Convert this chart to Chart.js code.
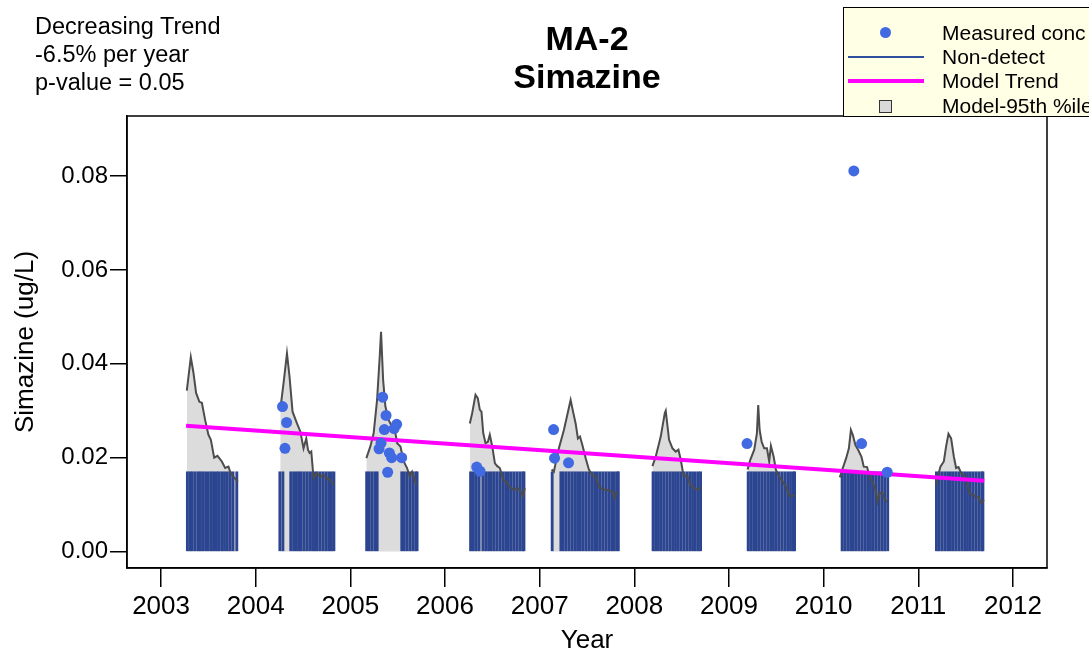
<!DOCTYPE html>
<html>
<head>
<meta charset="utf-8">
<title>MA-2 Simazine</title>
<script src="https://cdn.jsdelivr.net/npm/chart.js@4.4.1/dist/chart.umd.min.js"></script>
<style>
  html, body { margin: 0; padding: 0; background: #fff; }
  #wrap { position: relative; width: 1089px; height: 656px; overflow: hidden; font-family: "Liberation Sans", Arial, sans-serif; color: #000; }
  #trendChart { position: absolute; left: 0; top: 0; }
  #note { position: absolute; left: 35px; top: 12px; font-size: 23.5px; line-height: 28px; }
  #title { position: absolute; left: 387px; width: 400px; top: 19px; text-align: center; font-size: 34px; line-height: 38px; font-weight: bold; }
  #legend { position: absolute; left: 843px; top: 7px; width: 270px; height: 110px; background: #ffffe6; border: 1.5px solid #000; box-sizing: border-box; }
  #legend .txt { position: absolute; left: 98px; font-size: 21px; line-height: 24px; white-space: nowrap; }
  #legend .dot { position: absolute; left: 36px; top: 19px; width: 11px; height: 11px; border-radius: 50%; background: #4169e1; }
  #legend .nd { position: absolute; left: 4px; top: 48px; width: 76px; height: 2px; background: #2f4f9f; }
  #legend .mt { position: absolute; left: 4px; top: 71px; width: 76px; height: 4px; background: #ff00ff; }
  #legend .sq { position: absolute; left: 35px; top: 92px; width: 13px; height: 13px; background: #d9d9d9; border: 1.5px solid #333; box-sizing: border-box; }
</style>
</head>
<body>
<div id="wrap">
  <canvas id="trendChart" width="1089" height="656"></canvas>
  <div id="note">Decreasing Trend<br>-6.5% per year<br>p-value = 0.05</div>
  <div id="title">MA-2<br>Simazine</div>
  <div id="legend">
    <span class="dot"></span><span class="txt" style="top:13px">Measured conc</span>
    <span class="nd"></span><span class="txt" style="top:37px">Non-detect</span>
    <span class="mt"></span><span class="txt" style="top:61px">Model Trend</span>
    <span class="sq"></span><span class="txt" style="top:86px">Model-95th %ile</span>
  </div>
</div>
<script>
const yearTicks = [2003, 2004, 2005, 2006, 2007, 2008, 2009, 2010, 2011, 2012];
const concTicks = [0, 0.02, 0.04, 0.06, 0.08];

// measured concentrations (decimal year, ug/L)
const measuredYears = [2004.283, 2004.326, 2004.309, 2005.341, 2005.377, 2005.359, 2005.489, 2005.462,
  2005.324, 2005.303, 2005.412, 2005.436, 2005.542, 2005.394, 2006.335, 2006.371,
  2007.147, 2007.157, 2007.305, 2009.191, 2010.319, 2010.401, 2010.672];
const measuredConc = [0.0309, 0.0275, 0.0220, 0.0329, 0.0290, 0.0260, 0.0271, 0.0262,
  0.0231, 0.0219, 0.0210, 0.0200, 0.0200, 0.0169, 0.0180, 0.0171,
  0.0260, 0.0199, 0.0189, 0.0230, 0.0811, 0.0230, 0.0169];

// non-detect samples, reporting limit 0.017
const ndLimit = 0.017;
const ndYears = [
  2003.278, 2003.305, 2003.33, 2003.36, 2003.39, 2003.415, 2003.44, 2003.47, 2003.50, 2003.53, 2003.555, 2003.585, 2003.61, 2003.64, 2003.67, 2003.70, 2003.73, 2003.76, 2003.80,
  2004.255, 2004.287, 2004.37, 2004.40, 2004.43, 2004.455, 2004.48, 2004.51, 2004.54, 2004.57, 2004.60, 2004.625, 2004.65, 2004.68, 2004.71, 2004.74, 2004.77, 2004.80, 2004.826,
  2005.172, 2005.20, 2005.23, 2005.26, 2005.283, 2005.543, 2005.57, 2005.60, 2005.63, 2005.66, 2005.69, 2005.705,
  2006.27, 2006.30, 2006.33, 2006.36, 2006.40, 2006.43, 2006.46, 2006.49, 2006.52, 2006.55, 2006.58, 2006.61, 2006.64, 2006.67, 2006.70, 2006.73, 2006.76, 2006.79, 2006.82, 2006.834,
  2007.132, 2007.224, 2007.25, 2007.28, 2007.31, 2007.34, 2007.37, 2007.40, 2007.43, 2007.46, 2007.49, 2007.52, 2007.55, 2007.58, 2007.61, 2007.64, 2007.67, 2007.70, 2007.73, 2007.76, 2007.79, 2007.82, 2007.831,
  2008.198, 2008.225, 2008.255, 2008.285, 2008.315, 2008.345, 2008.375, 2008.405, 2008.435, 2008.465, 2008.495, 2008.525, 2008.555, 2008.585, 2008.615, 2008.645, 2008.675, 2008.70,
  2009.203, 2009.23, 2009.26, 2009.29, 2009.32, 2009.35, 2009.38, 2009.41, 2009.44, 2009.47, 2009.50, 2009.53, 2009.56, 2009.59, 2009.62, 2009.65, 2009.68, 2009.693,
  2010.197, 2010.225, 2010.255, 2010.285, 2010.315, 2010.345, 2010.375, 2010.405, 2010.435, 2010.465, 2010.495, 2010.525, 2010.555, 2010.585, 2010.615, 2010.645, 2010.677,
  2011.192, 2011.22, 2011.25, 2011.28, 2011.31, 2011.34, 2011.37, 2011.40, 2011.43, 2011.46, 2011.49, 2011.52, 2011.55, 2011.58, 2011.61, 2011.64, 2011.67, 2011.683
];

// model 95th percentile, one list of [year, conc] per sampling season
const p95Seasons = [
  [[2003.272, 0.0343], [2003.314, 0.0414], [2003.342, 0.0381], [2003.370, 0.0338], [2003.405, 0.0319], [2003.431, 0.0317], [2003.466, 0.0280], [2003.500, 0.0249], [2003.526, 0.0238], [2003.561, 0.0200], [2003.596, 0.0204], [2003.642, 0.0192], [2003.677, 0.0178], [2003.712, 0.0181], [2003.730, 0.0170], [2003.765, 0.0159], [2003.811, 0.0149]],
  [[2004.259, 0.0302], [2004.294, 0.0359], [2004.330, 0.0422], [2004.357, 0.0373], [2004.389, 0.0298], [2004.436, 0.0273], [2004.471, 0.0256], [2004.505, 0.0220], [2004.534, 0.0241], [2004.552, 0.0217], [2004.569, 0.0210], [2004.587, 0.0213], [2004.611, 0.0156], [2004.647, 0.0167], [2004.682, 0.0160], [2004.717, 0.0163], [2004.753, 0.0156], [2004.788, 0.0153], [2004.823, 0.0142]],
  [[2005.169, 0.0199], [2005.211, 0.0224], [2005.246, 0.0252], [2005.282, 0.0323], [2005.310, 0.0415], [2005.324, 0.0468], [2005.346, 0.0366], [2005.370, 0.0309], [2005.405, 0.0280], [2005.441, 0.0266], [2005.476, 0.0252], [2005.494, 0.0231], [2005.529, 0.0224], [2005.563, 0.0192], [2005.599, 0.0178], [2005.627, 0.0160], [2005.652, 0.0170], [2005.698, 0.0142]],
  [[2006.262, 0.0273], [2006.287, 0.0295], [2006.322, 0.0334], [2006.346, 0.0327], [2006.368, 0.0302], [2006.385, 0.0298], [2006.404, 0.0252], [2006.428, 0.0231], [2006.453, 0.0234], [2006.473, 0.0249], [2006.499, 0.0224], [2006.527, 0.0188], [2006.552, 0.0182], [2006.579, 0.0178], [2006.615, 0.0153], [2006.647, 0.0149], [2006.674, 0.0140], [2006.700, 0.0135], [2006.727, 0.0131], [2006.763, 0.0136], [2006.791, 0.0131], [2006.827, 0.0117], [2006.841, 0.0135]],
  [[2007.126, 0.0175], [2007.150, 0.0170], [2007.168, 0.0188], [2007.203, 0.0220], [2007.256, 0.0259], [2007.327, 0.0323], [2007.356, 0.0295], [2007.380, 0.0273], [2007.404, 0.0241], [2007.426, 0.0245], [2007.451, 0.0227], [2007.486, 0.0199], [2007.521, 0.0174], [2007.557, 0.0163], [2007.592, 0.0160], [2007.627, 0.0138], [2007.662, 0.0133], [2007.715, 0.0131], [2007.768, 0.0128], [2007.793, 0.0114], [2007.814, 0.0128]],
  [[2008.191, 0.0182], [2008.226, 0.0202], [2008.279, 0.0245], [2008.322, 0.0295], [2008.332, 0.0300], [2008.367, 0.0238], [2008.403, 0.0220], [2008.438, 0.0213], [2008.466, 0.0217], [2008.491, 0.0195], [2008.519, 0.0163], [2008.562, 0.0160], [2008.589, 0.0142], [2008.632, 0.0135], [2008.668, 0.0131], [2008.703, 0.0137]],
  [[2009.197, 0.0175], [2009.224, 0.0195], [2009.267, 0.0217], [2009.295, 0.0252], [2009.309, 0.0312], [2009.324, 0.0259], [2009.345, 0.0234], [2009.372, 0.0220], [2009.401, 0.0220], [2009.425, 0.0192], [2009.443, 0.0225], [2009.472, 0.0202], [2009.496, 0.0174], [2009.531, 0.0160], [2009.567, 0.0149], [2009.602, 0.0138], [2009.637, 0.0121], [2009.662, 0.0117], [2009.690, 0.0121]],
  [[2010.171, 0.0158], [2010.203, 0.0178], [2010.238, 0.0199], [2010.267, 0.0220], [2010.288, 0.0259], [2010.309, 0.0248], [2010.336, 0.0227], [2010.364, 0.0217], [2010.400, 0.0202], [2010.424, 0.0181], [2010.459, 0.0180], [2010.485, 0.0160], [2010.513, 0.0149], [2010.549, 0.0131], [2010.570, 0.0106], [2010.591, 0.0124], [2010.619, 0.0126], [2010.647, 0.0110], [2010.672, 0.0106]],
  [[2011.189, 0.0142], [2011.207, 0.0160], [2011.234, 0.0181], [2011.270, 0.0192], [2011.294, 0.0224], [2011.319, 0.0251], [2011.347, 0.0241], [2011.376, 0.0202], [2011.400, 0.0178], [2011.425, 0.0180], [2011.453, 0.0167], [2011.482, 0.0163], [2011.506, 0.0153], [2011.541, 0.0124], [2011.577, 0.0121], [2011.612, 0.0117], [2011.636, 0.0117], [2011.665, 0.0103], [2011.693, 0.0110]]
];

// model trend end points
const trendYears = [2003.264, 2011.697];
const trendConc = [0.0268, 0.0151];

const font = '"Liberation Sans", Arial, sans-serif';

const plotBox = {
  id: 'plotBox',
  afterDraw(chart) {
    const { ctx, chartArea: a } = chart;
    ctx.save();
    ctx.strokeStyle = '#000';
    ctx.lineWidth = 1.5;
    ctx.strokeRect(a.left, a.top, a.right - a.left, a.bottom - a.top);
    ctx.restore();
  }
};

const datasets = [];

datasets.push({
  type: 'scatter',
  data: measuredYears.map((x, i) => ({ x, y: measuredConc[i] })),
  backgroundColor: '#4169e1',
  borderWidth: 0,
  pointRadius: 5.5,
  order: 0
});

datasets.push({
  type: 'line',
  data: trendYears.map((x, i) => ({ x, y: trendConc[i] })),
  borderColor: '#ff00ff',
  borderWidth: 4,
  pointRadius: 0,
  fill: false,
  order: 1
});

p95Seasons.forEach(season => {
  const pts = season.map(p => ({ x: p[0], y: p[1] }));
  // outline on top of the non-detect bars
  datasets.push({
    type: 'line', data: pts, borderColor: '#4d4d4d', borderWidth: 2,
    pointRadius: 0, fill: false, tension: 0, order: 2
  });
  // grey area under the bars
  datasets.push({
    type: 'line', data: pts, borderWidth: 0, borderColor: 'rgba(0,0,0,0)',
    backgroundColor: '#dcdcdc', pointRadius: 0, fill: 'origin', tension: 0, order: 4
  });
});

datasets.push({
  type: 'bar',
  data: ndYears.map(x => ({ x, y: ndLimit })),
  backgroundColor: '#2c4591',
  borderWidth: 0,
  barThickness: 2.2,
  order: 3
});

const ctx = document.getElementById('trendChart').getContext('2d');
new Chart(ctx, {
  type: 'line',
  data: { datasets },
  plugins: [plotBox],
  options: {
    responsive: false,
    animation: false,
    layout: { padding: { top: 116, right: 42, left: 0, bottom: 0 } },
    plugins: { legend: { display: false }, tooltip: { enabled: false } },
    scales: {
      x: {
        type: 'linear',
        min: 2002.64,
        max: 2012.36,
        offset: false,
        afterBuildTicks: s => { s.ticks = yearTicks.map(v => ({ value: v })); },
        afterFit: s => { s.height = 88; },
        ticks: { callback: v => String(v), color: '#000', font: { family: font, size: 26 }, padding: 4, maxRotation: 0, autoSkip: false },
        grid: { drawOnChartArea: false, drawTicks: true, tickLength: 19, color: '#000', lineWidth: 1.5, offset: false },
        border: { display: true, color: '#000', width: 1.5 },
        title: { display: true, text: 'Year', color: '#000', font: { family: font, size: 26 }, padding: { top: 0, bottom: 0 } }
      },
      y: {
        type: 'linear',
        min: -0.0035,
        max: 0.0928,
        afterBuildTicks: s => { s.ticks = concTicks.map(v => ({ value: v })); },
        afterFit: s => { s.width = 127; },
        ticks: { callback: v => v.toFixed(2), color: '#000', font: { family: font, size: 24 }, padding: 2 },
        grid: { drawOnChartArea: false, drawTicks: true, tickLength: 17, color: '#000', lineWidth: 1.5 },
        border: { display: true, color: '#000', width: 1.5 },
        title: { display: true, text: 'Simazine (ug/L)', color: '#000', font: { family: font, size: 26 }, padding: { top: 10, bottom: 0 } }
      }
    }
  }
});
</script>
</body>
</html>
